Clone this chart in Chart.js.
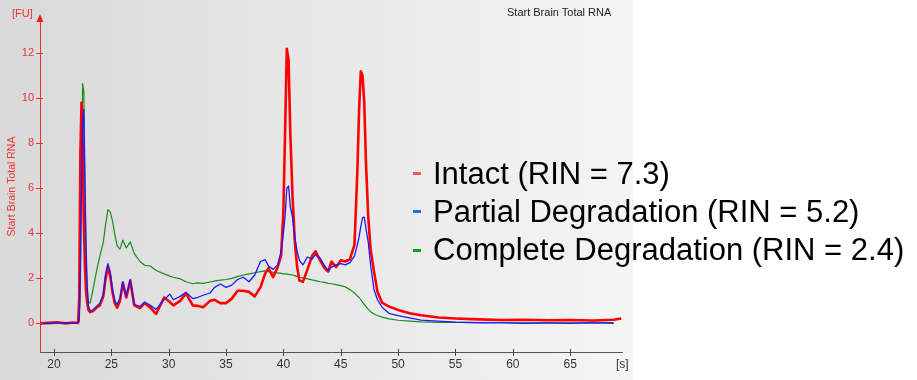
<!DOCTYPE html>
<html>
<head>
<meta charset="utf-8">
<script src="https://cdn.jsdelivr.net/npm/chart.js@4/dist/chart.umd.min.js"></script>
<style>
  html, body { margin: 0; padding: 0; background: #ffffff; }
  #wrap { position: relative; width: 917px; height: 380px; overflow: hidden; background: #ffffff; }
  #panel { position: absolute; left: 0; top: 0; width: 633px; height: 380px;
           background: linear-gradient(to right, #d9d9d9, #f5f5f5); }
  #c { position: absolute; left: 0; top: 0; }
  .txt { position: absolute; font-family: "Liberation Sans", Arial, sans-serif; white-space: nowrap; }
  .leg { position: absolute; left: 433px; font-family: "Liberation Sans", Arial, sans-serif;
         font-size: 31px; line-height: 31px; color: #000; white-space: nowrap; }
  .dash { position: absolute; left: 413px; width: 8px; height: 3px; }
</style>
</head>
<body>
<div id="wrap">
  <div id="panel"></div>
  <canvas id="c" width="917" height="380"></canvas>
  <div class="txt" style="left:12px; top:7px; font-size:11px; color:#f03030;">[FU]</div>
  <div class="txt" style="left:507px; top:6px; font-size:11px; color:#222;">Start Brain Total RNA</div>
  <div class="txt" style="left:616px; top:357px; font-size:12px; color:#333;">[s]</div>
  <div class="dash" style="top:172px; background:#f55555;"></div>
  <div class="dash" style="top:210px; background:#1e6eff;"></div>
  <div class="dash" style="top:249px; background:#14a014;"></div>
  <div class="leg" style="top:157.6px;">Intact (RIN = 7.3)</div>
  <div class="leg" style="top:195.9px;">Partial Degradation (RIN = 5.2)</div>
  <div class="leg" style="top:234.2px;">Complete Degradation (RIN = 2.4)</div>
</div>
<script>
// migration time [s]
const times = [
  18.8, 19.5, 20.2, 21.0, 21.7, 22.1,
  22.2, 22.3, 22.4, 22.5, 22.6, 22.7, 22.8, 22.9, 23.0, 23.15,
  23.4, 23.7, 24.0, 24.3, 24.5, 24.7, 24.9, 25.1, 25.3, 25.5, 25.75, 26.0, 26.3, 26.65, 27.0, 27.5, 27.9, 28.4, 28.9, 29.6,
  30.1, 30.4, 31.0, 31.5, 32.1, 32.5, 33.0, 33.6, 34.0, 34.5, 35.0, 35.5, 36.0, 36.5, 37.0, 37.5, 38.0, 38.4, 38.7, 39.1, 39.5, 39.8,
  40.0, 40.15, 40.3, 40.45, 40.6, 40.8, 41.0, 41.2, 41.4, 41.7, 42.1, 42.5, 42.8, 43.2, 43.6, 43.9, 44.2, 44.6, 45.0, 45.4, 45.8, 46.2,
  46.45, 46.6, 46.75, 46.9, 47.05, 47.2, 47.4, 47.6, 47.9, 48.2, 48.6, 49.2,
  50.0, 51.0, 52.0, 53.5, 55.0, 57.0, 59.0, 61.0, 63.0, 65.0, 67.0, 68.8, 69.45
];
// Intact (RIN = 7.3)
const intact = [
  0.0, 0.03, 0.05, 0.0, 0.04, 0.02,
  1.1, 7.5, 9.8, 8.0, 4.5, 2.5, 1.4, 0.9, 0.6, 0.5,
  0.55, 0.7, 0.8, 1.2, 2.0, 2.5, 2.1, 1.4, 0.9, 0.7, 1.0, 1.8, 1.15, 1.9, 0.8, 0.68, 0.9, 0.7, 0.42, 1.15,
  0.95, 0.8, 1.0, 1.33, 0.8, 0.78, 0.72, 1.0, 1.05, 0.9, 0.9, 1.1, 1.45, 1.45, 1.4, 1.2, 1.6, 2.2, 2.45, 2.05, 2.5, 3.0,
  5.0, 8.6, 12.2, 11.7, 8.5, 5.6, 3.6, 2.5, 1.9, 1.85, 2.4, 3.0, 3.2, 2.8, 2.45, 2.3, 2.75, 2.5, 2.8, 2.75, 2.85, 3.5,
  6.8, 9.5, 11.2, 11.0, 9.8, 7.1, 4.7, 3.3, 2.3, 1.4, 0.92, 0.75,
  0.6, 0.45, 0.36, 0.26, 0.22, 0.18, 0.15, 0.16, 0.14, 0.15, 0.13, 0.16, 0.22
];
// Partial Degradation (RIN = 5.2)
const partial = [
  -0.02, 0.0, 0.02, 0.03, 0.0, 0.02,
  0.2, 2.5, 6.0, 9.0, 9.5, 6.2, 3.3, 1.6, 0.8, 0.55,
  0.6, 0.75, 0.9, 1.3, 2.2, 2.65, 2.3, 1.5, 1.0, 0.85, 1.1, 1.85, 1.2, 1.95, 0.85, 0.75, 0.95, 0.8, 0.62, 1.05,
  1.3, 1.05, 1.2, 1.38, 1.1, 1.15, 1.25, 1.35, 1.6, 1.75, 1.6, 1.7, 1.95, 2.05, 1.85, 2.15, 2.75, 2.83, 2.55, 2.4, 2.6, 3.2,
  4.0, 4.8, 6.0, 6.1, 5.2, 4.7, 3.8, 3.2, 2.8, 2.6, 2.95, 2.85, 3.05, 2.9, 2.55, 2.35, 2.5, 2.6, 2.65, 2.6, 2.7, 3.0,
  3.5, 3.85, 4.3, 4.7, 4.72, 4.2, 3.6, 2.6, 1.5, 1.05, 0.72, 0.45,
  0.35, 0.25, 0.15, 0.1, 0.06, 0.03, 0.02, 0.0, 0.01, 0.0, 0.02, 0.0, null
];
// Complete Degradation (RIN = 2.4)
const complete = [
  0.02, -0.02, 0.0, 0.02, 0.03, 0.03,
  0.1, 1.5, 6.5, 10.65, 10.3, 6.0, 2.8, 1.5, 0.95, 0.9,
  1.5, 2.3, 3.0, 3.6, 4.4, 5.05, 4.95, 4.55, 3.95, 3.45, 3.3, 3.7, 3.35, 3.62, 3.1, 2.75, 2.58, 2.55, 2.35, 2.2,
  2.1, 2.05, 1.98, 1.85, 1.76, 1.8, 1.78, 1.84, 1.88, 1.92, 1.95, 2.0, 2.08, 2.15, 2.2, 2.25, 2.3, 2.33, 2.3, 2.27, 2.24, 2.22,
  2.2, 2.2, 2.2, 2.18, 2.17, 2.15, 2.12, 2.08, 2.05, 2.02, 1.98, 1.93, 1.9, 1.85, 1.82, 1.78, 1.76, 1.72, 1.68, 1.62, 1.5, 1.35,
  1.22, 1.15, 1.05, 0.95, 0.85, 0.75, 0.62, 0.52, 0.42, 0.35, 0.28, 0.2,
  0.14, 0.1, 0.07, 0.05, 0.05, 0.04, 0.04, 0.03, 0.04, 0.03, 0.05, 0.04, null
];
const seriesNames = ['Intact (RIN = 7.3)', 'Partial Degradation (RIN = 5.2)', 'Complete Degradation (RIN = 2.4)'];
const xTickStep = 5;
const yTickStep = 2;

const toPts = arr => times.map((t, i) => ({ x: t, y: arr[i] }));

const axisDecor = {
  id: 'axisDecor',
  afterDraw(chart) {
    const { ctx, chartArea } = chart;
    const xs = chart.scales.x, ys = chart.scales.y;
    ctx.save();
    ctx.lineWidth = 1;
    ctx.strokeStyle = '#444';
    xs.ticks.forEach(t => {
      const px = Math.round(xs.getPixelForValue(t.value)) + 0.5;
      ctx.beginPath(); ctx.moveTo(px, chartArea.bottom - 3); ctx.lineTo(px, chartArea.bottom + 4); ctx.stroke();
    });
    ctx.strokeStyle = '#f03030';
    ys.ticks.forEach(t => {
      const py = Math.round(ys.getPixelForValue(t.value)) + 0.5;
      ctx.beginPath(); ctx.moveTo(chartArea.left - 4, py); ctx.lineTo(chartArea.left + 3, py); ctx.stroke();
    });
    ctx.fillStyle = '#f02020';
    ctx.beginPath();
    ctx.moveTo(chartArea.left, chartArea.top - 7);
    ctx.lineTo(chartArea.left - 3.5, chartArea.top + 1);
    ctx.lineTo(chartArea.left + 3.5, chartArea.top + 1);
    ctx.closePath(); ctx.fill();
    ctx.restore();
  }
};

new Chart(document.getElementById('c'), {
  type: 'line',
  data: {
    datasets: [
      { label: seriesNames[0], data: toPts(intact), borderColor: '#ff0000', borderWidth: 2.6, order: 1 },
      { label: seriesNames[1], data: toPts(partial), borderColor: '#1a1aff', borderWidth: 1.3, order: 0 },
      { label: seriesNames[2], data: toPts(complete), borderColor: '#1a8c1a', borderWidth: 1.2, order: 2 }
    ]
  },
  options: {
    responsive: false,
    animation: false,
    devicePixelRatio: 1,
    layout: { padding: { left: 0, top: 21, right: 295, bottom: 0 } },
    elements: { point: { radius: 0 }, line: { tension: 0, borderJoinStyle: 'round' } },
    plugins: { legend: { display: false }, tooltip: { enabled: false }, title: { display: false } },
    scales: {
      x: {
        type: 'linear', min: 18.78, max: 69.52,
        afterFit: s => { s.height = 28; },
        grid: { display: false, drawTicks: false },
        border: { display: true, color: '#555', width: 1 },
        ticks: { stepSize: xTickStep, includeBounds: false, padding: 5, color: '#333', maxRotation: 0,
                 font: { family: '"Liberation Sans", Arial, sans-serif', size: 12 } }
      },
      y: {
        type: 'linear', min: -1.27, max: 13.43,
        afterFit: s => { s.width = 40; },
        grid: { display: false, drawTicks: false },
        border: { display: true, color: '#f03030', width: 1 },
        ticks: { stepSize: yTickStep, includeBounds: false, padding: 6, color: '#ee3333',
                 font: { family: '"Liberation Sans", Arial, sans-serif', size: 11 } },
        title: { display: true, text: 'Start Brain Total RNA', color: '#ee3333', padding: { top: 6, bottom: 0 },
                 font: { family: '"Liberation Sans", Arial, sans-serif', size: 10.5 } }
      }
    }
  },
  plugins: [axisDecor]
});
</script>
</body>
</html>
